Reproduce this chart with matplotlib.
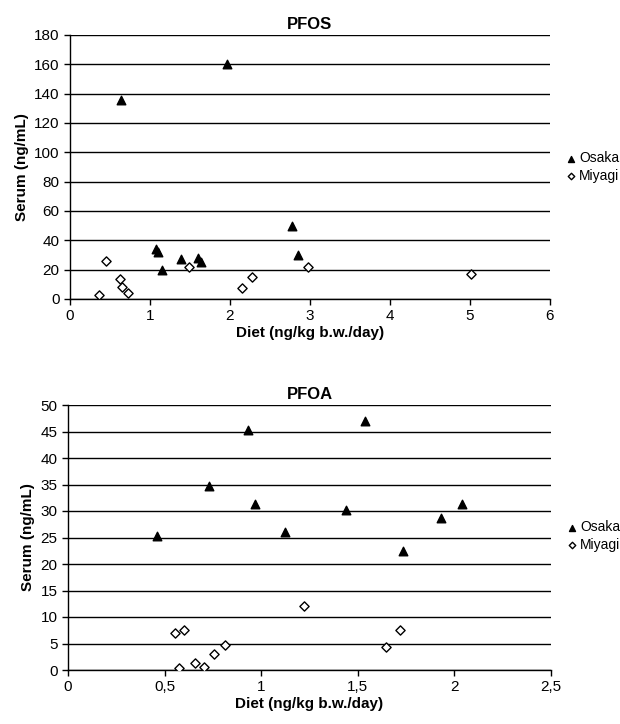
import numpy as np
import matplotlib.pyplot as plt
from matplotlib.ticker import FuncFormatter

plt.rcParams['font.family'] = ['Liberation Sans', 'DejaVu Sans']

# PFOS data
pfos_osaka_x = [0.64, 1.96, 1.07, 1.10, 1.15, 1.39, 1.60, 1.64, 2.77, 2.85]
pfos_osaka_y = [136, 160, 34, 32, 20, 27, 28, 25, 50, 30]
pfos_miyagi_x = [0.36, 0.45, 0.63, 0.65, 0.72, 1.49, 2.15, 2.27, 2.98, 5.01]
pfos_miyagi_y = [3, 26, 13.6, 8, 4, 22, 7.7, 15, 21.8, 17]

# PFOA data
pfoa_osaka_x = [0.46, 0.73, 0.93, 0.97, 1.125, 1.44, 1.535, 1.735, 1.93, 2.04]
pfoa_osaka_y = [25.3, 34.8, 45.3, 31.3, 26.0, 30.2, 47.0, 22.5, 28.7, 31.4]
pfoa_miyagi_x = [0.555, 0.598, 0.577, 0.655, 0.705, 0.755, 0.815, 1.223, 1.646, 1.716]
pfoa_miyagi_y = [7.0, 7.6, 0.3, 1.4, 0.6, 3.1, 4.8, 12.1, 4.4, 7.5]

W, H = 620, 724
fig = plt.figure(figsize=(6.2, 7.24), dpi=100)


def make_ax(left, right, top, bottom):
    return fig.add_axes([left / W, 1 - bottom / H, (right - left) / W, (bottom - top) / H])


def style(ax, title, ymax, ystep, xmax, xstep, comma, legend_y):
    ax.set_xlim(0, xmax)
    ax.set_ylim(0, ymax)
    ax.set_yticks(np.arange(0, ymax + ystep / 2, ystep))
    ax.set_xticks(np.arange(0, xmax + xstep / 2, xstep))
    if comma:
        ax.xaxis.set_major_formatter(FuncFormatter(lambda v, p: ('%g' % v).replace('.', ',')))
    for s in ['top', 'right']:
        ax.spines[s].set_visible(False)
    for s in ['left', 'bottom']:
        ax.spines[s].set_linewidth(1.0)
    ax.yaxis.grid(True, color='black', linewidth=1.0)
    ax.set_axisbelow(True)
    ax.tick_params(labelsize=11, length=4, width=1)
    ax.set_title(title, fontsize=12, fontweight='bold', pad=4)
    ax.set_xlabel('Diet (ng/kg b.w./day)', fontsize=11, fontweight='bold', labelpad=2)
    ax.set_ylabel('Serum (ng/mL)', fontsize=11, fontweight='bold', labelpad=4)
    ax.legend(loc='center left', bbox_to_anchor=(1.0, legend_y), frameon=False,
              handlelength=0.4, handletextpad=0.4, labelspacing=0.25,
              fontsize=10, markerscale=0.7, borderaxespad=0.9)


ax1 = make_ax(70, 550, 35, 299)
ax1.scatter(pfos_osaka_x, pfos_osaka_y, marker='^', s=38, color='black', label='Osaka', zorder=3)
ax1.scatter(pfos_miyagi_x, pfos_miyagi_y, marker='D', s=22, facecolor='white',
            edgecolor='black', linewidth=1.0, label='Miyagi', zorder=3)
style(ax1, 'PFOS', 180, 20, 6, 1, False, 0.50)

ax2 = make_ax(68, 551, 405, 670)
ax2.scatter(pfoa_osaka_x, pfoa_osaka_y, marker='^', s=38, color='black', label='Osaka', zorder=3)
ax2.scatter(pfoa_miyagi_x, pfoa_miyagi_y, marker='D', s=22, facecolor='white',
            edgecolor='black', linewidth=1.0, label='Miyagi', zorder=3)
style(ax2, 'PFOA', 50, 5, 2.5, 0.5, True, 0.505)

fig.savefig('out.png', dpi=100)
